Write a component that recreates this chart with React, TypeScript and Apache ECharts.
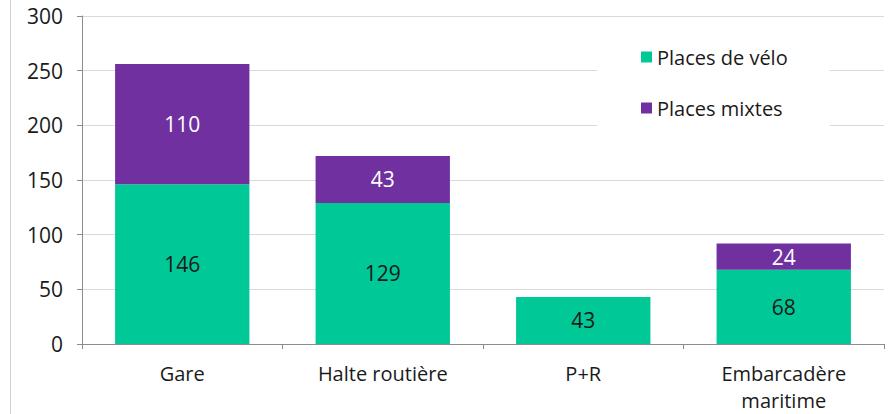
import React, { useEffect, useRef } from "react";
import * as echarts from "echarts";

const categories = ["Gare", "Halte routière", "P+R", "Embarcadère\nmaritime"];
const placesVelo = [146, 129, 43, 68];
const placesMixtes: (number | null)[] = [110, 43, null, 24];
const yTicks = { min: 0, max: 300, interval: 50 };

const FONT = "'Open Sans', 'Noto Sans', sans-serif";

export default function App() {
  const ref = useRef<HTMLDivElement>(null);
  useEffect(() => {
    if (!ref.current) return;
    const chart = echarts.init(ref.current, null, { renderer: "svg" });
    chart.setOption({
      animation: false,
      backgroundColor: "#fff",
      textStyle: { fontFamily: FONT },
      grid: { left: 82, right: 9, top: 16, bottom: 67, containLabel: false },
      legend: {
        orient: "vertical",
        left: 597,
        top: 35,
        padding: [12, 42, 12, 44],
        backgroundColor: "#fff",
        itemWidth: 11,
        itemHeight: 11,
        itemGap: 31,
        icon: "rect",
        textStyle: { fontSize: 20, color: "#1a1a1a", fontFamily: FONT },
        data: ["Places de vélo", "Places mixtes"],
      },
      xAxis: {
        type: "category",
        data: categories,
        axisLine: { lineStyle: { color: "#8c8c8c" } },
        axisTick: { show: true, alignWithLabel: false, length: 5, lineStyle: { color: "#8c8c8c" } },
        axisLabel: { fontSize: 20, color: "#1a1a1a", margin: 16, lineHeight: 27, fontFamily: FONT },
      },
      yAxis: {
        type: "value",
        min: yTicks.min,
        max: yTicks.max,
        interval: yTicks.interval,
        axisLine: { show: true, lineStyle: { color: "#8c8c8c" } },
        axisTick: { show: true, length: 5, lineStyle: { color: "#8c8c8c" } },
        splitLine: { lineStyle: { color: "#d9d9d9" } },
        axisLabel: { fontSize: 21, color: "#1a1a1a", margin: 19, fontFamily: FONT },
      },
      series: [
        {
          name: "Places de vélo",
          type: "bar",
          stack: "total",
          barCategoryGap: "33%",
          data: placesVelo,
          itemStyle: { color: "#00C896" },
          label: { show: true, position: "inside", color: "#1a1a1a", fontSize: 21, fontFamily: FONT },
        },
        {
          name: "Places mixtes",
          type: "bar",
          stack: "total",
          data: placesMixtes,
          itemStyle: { color: "#7030A0" },
          label: { show: true, position: "inside", color: "#ffffff", fontSize: 21, fontFamily: FONT },
        },
      ],
      graphic: [
        {
          type: "line",
          shape: { x1: 10.5, y1: 0, x2: 10.5, y2: 414 },
          style: { stroke: "#d0d0d0", lineWidth: 1 },
        },
      ],
    });
    return () => chart.dispose();
  }, []);
  return <div ref={ref} style={{ width: 893, height: 414, position: "absolute", left: 0, top: 0 }} />;
}
